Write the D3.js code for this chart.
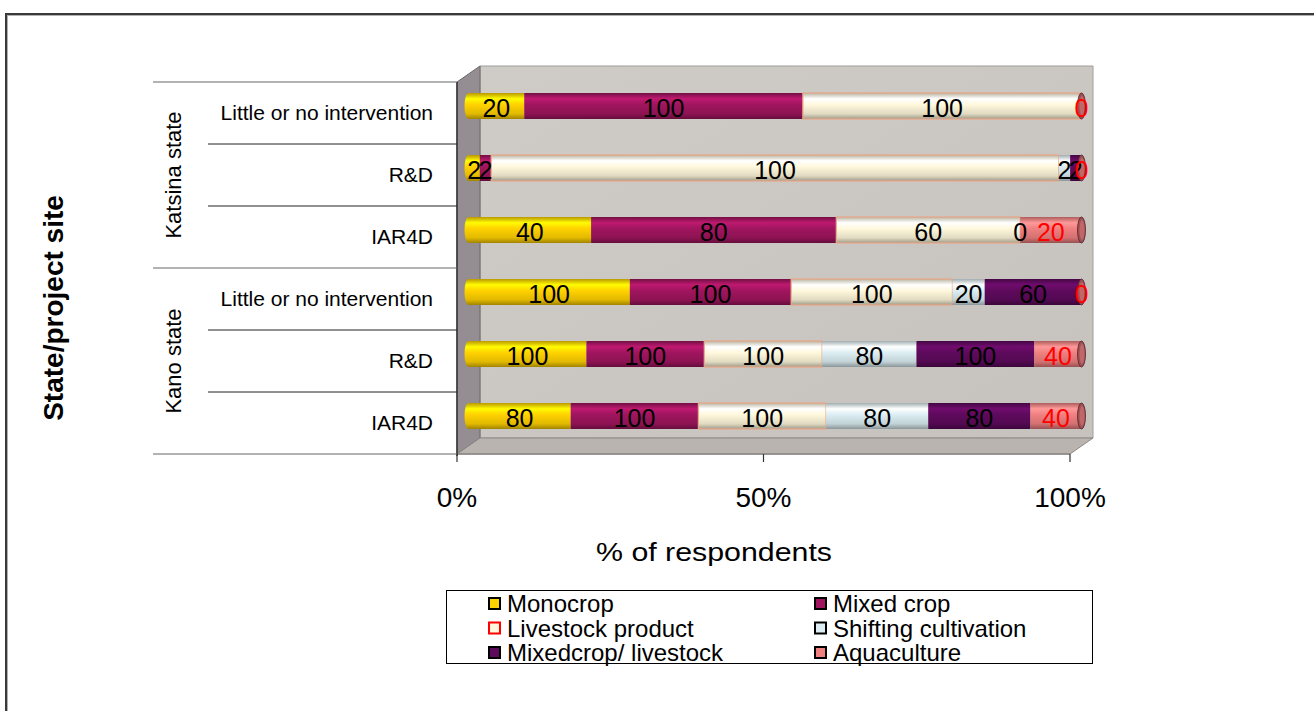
<!DOCTYPE html>
<html>
<head>
<meta charset="utf-8">
<script src="https://cdn.jsdelivr.net/npm/d3@7"></script>
<style>
  html, body { margin: 0; padding: 0; background: #fff; }
  svg { display: block; font-family: "Liberation Sans", Arial, sans-serif; }
</style>
</head>
<body>
<svg id="chart" width="1314" height="711"></svg>
<script>
// ---------- data ----------
const siteLabels = ["Little or no intervention", "R&D", "IAR4D", "Little or no intervention", "R&D", "IAR4D"];
const stateLabels = ["Katsina state", "Kano state"];
const seriesNames = ["Monocrop", "Mixed crop", "Livestock product", "Shifting cultivation", "Mixedcrop/ livestock", "Aquaculture"];
const monocrop            = [20, 2, 40, 100, 100, 80];
const mixedCrop           = [100, 2, 80, 100, 100, 100];
const livestockProduct    = [100, 100, 60, 100, 100, 100];
const shiftingCultivation = [null, 2, 0, 20, 80, 80];
const mixedcropLivestock  = [null, 2, null, 60, 100, 80];
const aquaculture         = [0, 0, 20, 0, 40, 40];
const tickValues = [0, 0.5, 1];
const tickLabels = ["0%", "50%", "100%"];
const xAxisTitle = "% of respondents";
const yAxisTitle = "State/project site";

// ---------- styles ----------
const colors = ["#FFD200", "#A0155E", "#FFF8DC", "#DCEEF3", "#5E0A5C", "#F08080"];
const labelColors = ["#000", "#000", "#000", "#000", "#000", "#FF0000"];
const seriesValues = [monocrop, mixedCrop, livestockProduct, shiftingCultivation, mixedcropLivestock, aquaculture];

const svg = d3.select("#chart");
const defs = svg.append("defs");

// frame
svg.append("rect").attr("x", 6).attr("y", 14).attr("width", 1330).attr("height", 730)
  .attr("fill", "none").attr("stroke", "#3a3a3a").attr("stroke-width", 2);
svg.append("rect").attr("x", 7.5).attr("y", 15.5).attr("width", 1330).attr("height", 730)
  .attr("fill", "none").attr("stroke", "#b0b0b0").attr("stroke-width", 1);

// scales
const x = d3.scaleLinear().domain([0, 1]).range([457, 1070]);
const rowIds = d3.range(siteLabels.length);
const y = d3.scaleBand().domain(rowIds).range([82, 454]);
const dx = 23, dy = -16;

// ---------- 3D box ----------
const wallGrad = defs.append("linearGradient").attr("id", "wall").attr("x1", 0).attr("y1", 0).attr("x2", 1).attr("y2", 1);
wallGrad.append("stop").attr("offset", "0%").attr("stop-color", "#cfccc8");
wallGrad.append("stop").attr("offset", "100%").attr("stop-color", "#c6c3bf");

const x0 = x(0), x1 = x(1), yT = y.range()[0], yB = y.range()[1];
svg.append("polygon")
  .attr("points", [[x0 + dx, yT + dy], [x1 + dx, yT + dy], [x1 + dx, yB + dy], [x0 + dx, yB + dy]].join(" "))
  .attr("fill", "url(#wall)").attr("stroke", "#a09d9a").attr("stroke-width", 1);
svg.append("polygon")
  .attr("points", [[x0, yT], [x0 + dx, yT + dy], [x0 + dx, yB + dy], [x0, yB]].join(" "))
  .attr("fill", "#948e93").attr("stroke", "#6e686d").attr("stroke-width", 1);
svg.append("polygon")
  .attr("points", [[x0, yB], [x1, yB], [x1 + dx, yB + dy], [x0 + dx, yB + dy]].join(" "))
  .attr("fill", "#b9b4b0").attr("stroke", "#8d8884").attr("stroke-width", 1);
svg.append("line").attr("x1", x0).attr("x2", x1).attr("y1", yB).attr("y2", yB)
  .attr("stroke", "#8d8884").attr("stroke-width", 1.5);

// ---------- gradients for cylinders ----------
colors.forEach((c, i) => {
  const g = defs.append("linearGradient").attr("id", "cyl" + i).attr("x1", 0).attr("y1", 0).attr("x2", 0).attr("y2", 1);
  const base = d3.color(c);
  g.append("stop").attr("offset", "0%").attr("stop-color", base.darker(0.9));
  g.append("stop").attr("offset", "22%").attr("stop-color", base.brighter(0.5));
  g.append("stop").attr("offset", "45%").attr("stop-color", base);
  g.append("stop").attr("offset", "80%").attr("stop-color", base.darker(0.35));
  g.append("stop").attr("offset", "100%").attr("stop-color", base.darker(1.3));
});

// ---------- stacked bars ----------
const table = rowIds.map(r => {
  const o = { row: r };
  seriesNames.forEach((s, i) => { o[s] = seriesValues[i][r] == null ? 0 : seriesValues[i][r]; });
  return o;
});
const stacked = d3.stack().keys(seriesNames).offset(d3.stackOffsetExpand)(table);

const barH = 26;
const bx = dx / 2, by = -7;
const barG = svg.append("g");

rowIds.forEach(r => {
  const cy = y(r) + y.bandwidth() / 2 + by;
  const firstIdx = stacked.findIndex(s => s[r][1] - s[r][0] > 0);
  barG.append("ellipse").attr("cx", x(0) + bx).attr("cy", cy).attr("rx", 4).attr("ry", barH / 2)
    .attr("fill", "url(#cyl" + firstIdx + ")");
  stacked.forEach((s, i) => {
    const a = s[r][0], b = s[r][1];
    if (b - a <= 0) return;
    barG.append("rect")
      .attr("x", x(a) + bx).attr("y", cy - barH / 2)
      .attr("width", x(b) - x(a)).attr("height", barH)
      .attr("fill", "url(#cyl" + i + ")")
      .attr("stroke", i === 2 ? "#eaa587" : "none").attr("stroke-width", i === 2 ? 1.2 : 0);
  });
  const capC = d3.color(colors[5]).darker(1.2);
  barG.append("ellipse").attr("cx", x(1) + bx).attr("cy", cy).attr("rx", 4).attr("ry", barH / 2)
    .attr("fill", capC).attr("stroke", "#5a2030").attr("stroke-width", 0.8);
  barG.append("ellipse").attr("cx", x(1) + bx + 0.5).attr("cy", cy).attr("rx", 2.5).attr("ry", barH / 2 - 3)
    .attr("fill", d3.color(colors[5]).darker(0.6));
});

// labels
const labelG = svg.append("g").attr("font-size", 25).attr("text-anchor", "middle");
rowIds.forEach(r => {
  const cy = y(r) + y.bandwidth() / 2 + by;
  stacked.forEach((s, i) => {
    const v = seriesValues[i][r];
    if (v == null) return;
    const a = s[r][0], b = s[r][1];
    labelG.append("text")
      .attr("x", x((a + b) / 2) + bx)
      .attr("y", cy + 11)
      .attr("fill", labelColors[i])
      .text(v);
  });
});

// ---------- category axis ----------
const axG = svg.append("g").attr("stroke", "#333").attr("stroke-width", 1);
axG.append("line").attr("x1", x0).attr("x2", x0).attr("y1", yT).attr("y2", yB + 2).attr("stroke-width", 1.5);
const bounds = d3.range(siteLabels.length + 1).map(k => yT + k * y.step());
bounds.forEach((yy, k) => {
  const major = (k % 3 === 0);
  axG.append("line").attr("x1", major ? 153 : 208).attr("x2", x0).attr("y1", yy).attr("y2", yy)
    .attr("stroke", major ? "#666" : "#222");
});
svg.append("g").attr("font-size", 21).attr("text-anchor", "end").attr("fill", "#000")
  .selectAll("text").data(rowIds).join("text")
  .attr("x", 433).attr("y", r => y(r) + y.bandwidth() / 2 + 7)
  .text(r => siteLabels[r]);
stateLabels.forEach((s, k) => {
  const cyy = yT + (k * 3 + 1.5) * y.step();
  svg.append("text").attr("transform", `translate(181,${cyy}) rotate(-90)`)
    .attr("text-anchor", "middle").attr("font-size", 22).text(s);
});

// ---------- value axis ----------
const vAxis = svg.append("g");
tickValues.forEach((t, k) => {
  vAxis.append("line").attr("x1", x(t)).attr("x2", x(t)).attr("y1", yB).attr("y2", yB + 8)
    .attr("stroke", "#333").attr("stroke-width", 1.2);
  vAxis.append("text").attr("x", x(t)).attr("y", 507).attr("text-anchor", "middle")
    .attr("font-size", 28).text(tickLabels[k]);
});
svg.append("text").attr("x", 714).attr("y", 561).attr("text-anchor", "middle")
  .attr("font-size", 25).attr("textLength", 236).attr("lengthAdjust", "spacingAndGlyphs")
  .text(xAxisTitle);
svg.append("text").attr("transform", "translate(63,308) rotate(-90)")
  .attr("text-anchor", "middle").attr("font-size", 28).attr("font-weight", "bold").text(yAxisTitle);

// ---------- legend ----------
const lg = svg.append("g");
lg.append("rect").attr("x", 446.5).attr("y", 590.5).attr("width", 646).attr("height", 73)
  .attr("fill", "#fff").attr("stroke", "#000").attr("stroke-width", 1);
const legendBorders = ["#000", "#000", "#FF0000", "#000", "#000", "#000"];
seriesNames.forEach((s, i) => {
  const col = i % 2, row = Math.floor(i / 2);
  const lx = col === 0 ? 489 : 815;
  const ly = 604 + row * 24.5;
  lg.append("rect").attr("x", lx).attr("y", ly - 6).attr("width", 11).attr("height", 11)
    .attr("fill", colors[i]).attr("stroke", legendBorders[i]).attr("stroke-width", 2);
  lg.append("text").attr("x", lx + 18).attr("y", ly + 8).attr("font-size", 24).text(s);
});
</script>
</body>
</html>
